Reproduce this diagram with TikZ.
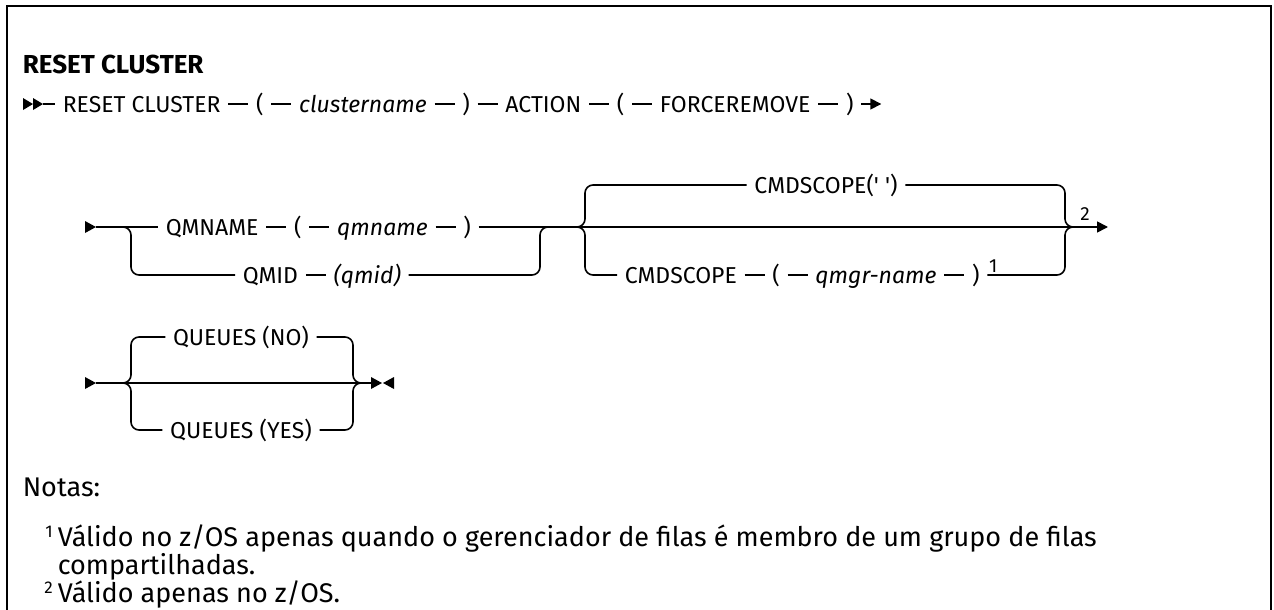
\documentclass[tikz,border=0pt]{standalone}
\usepackage{fontspec}
\setmainfont{Fira Sans}
\usetikzlibrary{positioning,arrows.meta,calc}
\begin{document}
\begin{tikzpicture}[x=1pt,y=-1pt,
  line width=1.6pt,
  tok/.style={inner xsep=7pt, inner ysep=0pt, text height=16pt, text depth=0pt, font=\fontsize{23}{27}\selectfont},
  var/.style={tok, font=\fontsize{23}{27}\selectfont\itshape},
  fn/.style={font=\fontsize{19}{20}\selectfont, inner sep=0pt},
  note/.style={font=\fontsize{27}{28}\selectfont, anchor=base west, inner sep=0pt},
  endarrow/.style={-{Triangle[length=11pt,width=11pt]}},
  branch/.style={rounded corners=8pt},
  node distance=20pt,
]
\useasboundingbox (0,0) rectangle (1274,610);
\draw[line width=2pt] (7,610) -- (7,6) -- (1271,6) -- (1271,610);

\node[anchor=base west, inner sep=0pt, font=\fontsize{26}{30}\selectfont\bfseries] (title) at (22,74) {RESET CLUSTER};

% row 1
\fill (23,98) -- (33,104) -- (23,110) -- cycle;
\fill (33,98) -- (43,104) -- (33,110) -- cycle;
\coordinate (s1) at (43,104);
\node[tok, anchor=west] (a1) at (55,104) {RESET CLUSTER};
\node[tok, right=of a1] (a2) {(};
\node[var, right=of a2] (a3) {clustername};
\node[tok, right=of a3] (a4) {)};
\node[tok, right=of a4] (a5) {ACTION};
\node[tok, right=of a5] (a6) {(};
\node[tok, right=of a6] (a7) {FORCEREMOVE};
\node[tok, right=of a7] (a8) {)};
\coordinate[right=20pt of a8] (e1);
\draw (s1) -- (a1) (a1) -- (a2) (a2) -- (a3) (a3) -- (a4) (a4) -- (a5) (a5) -- (a6) (a6) -- (a7) (a7) -- (a8);
\draw[endarrow] (a8) -- (e1);

% row 2
\fill (85,221) -- (96,227) -- (85,233) -- cycle;
\coordinate (s2) at (96,227);
\node[tok, anchor=west] (b1) at (158,227) {QMNAME};
\node[tok, right=of b1] (b2) {(};
\node[var, right=of b2] (b3) {qmname};
\node[tok, right=of b3] (b4) {)};
\draw (s2) -- (b1) (b1) -- (b2) (b2) -- (b3) (b3) -- (b4);
\node[tok, anchor=west] (c1) at (235,275) {QMID};
\node[var, right=of c1] (c2) {(qmid)};
\draw (c1) -- (c2);
\coordinate (j1) at (121,227);
\draw[branch] (j1) -| (131,275) -- (c1);
\draw[branch] (c2.east) -| (540,227) -- (550,227);

\coordinate (e2) at (1108,227);
\draw[endarrow] (b4) -- (e2);
\node[fn, anchor=south] (n2) at (1085,221) {2};

\coordinate (j2) at (575,227);
\node[tok] (d0) at (826,185) {CMDSCOPE(\textquotesingle\ \textquotesingle)};
\draw[branch] (j2) -| (585,185) -- (d0);
\draw[branch] (d0) -| (1065,227) -- (1075,227);
\node[tok, anchor=west] (f1) at (617,275) {CMDSCOPE};
\node[tok, right=of f1] (f2) {(};
\node[var, right=of f2] (f3) {qmgr-name};
\node[tok, right=of f3] (f4) {)};
\draw (f1) -- (f2) (f2) -- (f3) (f3) -- (f4);
\draw[branch] (j2) -| (585,275) -- (f1);
\draw[branch] (f4) -| (1065,227) -- (1075,227);
\node[fn, anchor=south west] (n1) at ($(f4.east)+(1,-2)$) {1};

% row 3
\fill (85,377) -- (96,383) -- (85,389) -- cycle;
\coordinate (s3) at (96,383);
\coordinate (e3) at (371,383);
\draw (s3) -- (e3);
\fill (371,377) -- (382,383) -- (371,389) -- cycle;
\fill (394,377) -- (383,383) -- (394,389) -- cycle;
\node[tok] (q1) at (241,337) {QUEUES (NO)};
\node[tok] (q2) at (241,430) {QUEUES (YES)};
\coordinate (j3) at (121,383);
\draw[branch] (j3) -| (131,337) -- (q1);
\draw[branch] (j3) -| (131,430) -- (q2);
\draw[branch] (q1) -| (353,383) -- (363,383);
\draw[branch] (q2) -| (353,383) -- (363,383);

% notes
\node[note] (nt) at (22,496) {Notas:};
\node[note] (nl1) at (57,546) {\llap{\fontsize{17}{18}\selectfont\raisebox{9pt}{1}\hspace{5pt}}Válido no z/OS apenas quando o gerenciador de filas é membro de um grupo de filas};
\node[note] (nl2) at (57,574) {compartilhadas.};
\node[note] (nl3) at (57,602) {\llap{\fontsize{17}{18}\selectfont\raisebox{9pt}{2}\hspace{5pt}}Válido apenas no z/OS.};
\end{tikzpicture}
\end{document}
